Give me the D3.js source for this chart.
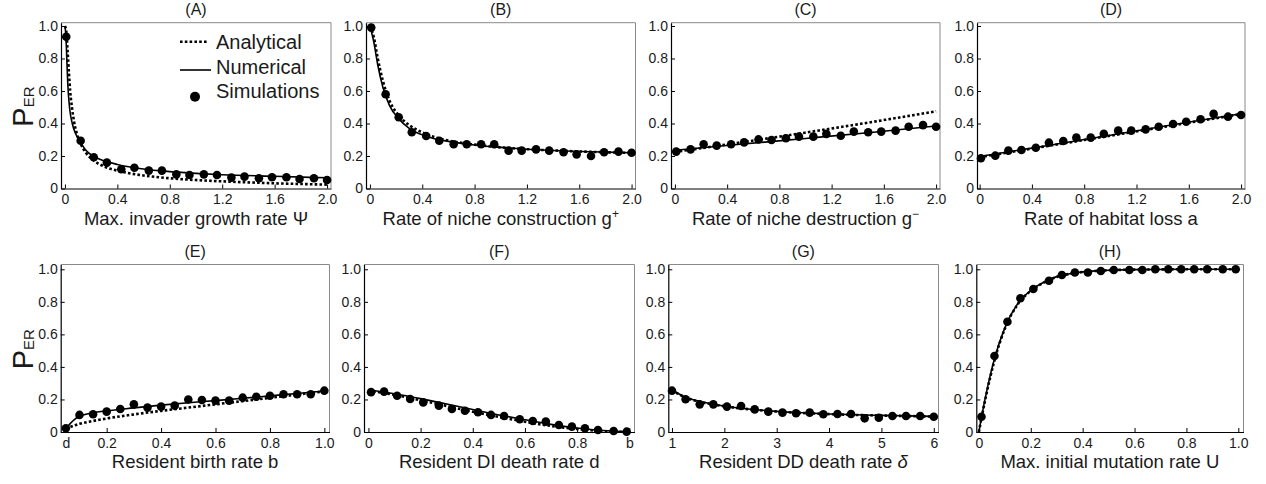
<!DOCTYPE html>
<html>
<head>
<meta charset="utf-8">
<script src="https://cdn.jsdelivr.net/npm/d3@7"></script>
<style>
  body { margin: 0; background: #fff; }
  text { font-family: "Liberation Sans", Arial, sans-serif; fill: #1a1a1a; }
</style>
</head>
<body>
<svg id="chart" width="1266" height="484"></svg>
<script>
// x values of the simulation points
var xTwo = [0.01, 0.12, 0.22, 0.32, 0.43, 0.53, 0.64, 0.74, 0.85, 0.95, 1.06, 1.16, 1.27, 1.37, 1.48, 1.58, 1.69, 1.79, 1.90, 2.0];
var xBirth = [0.05, 0.1, 0.15, 0.2, 0.25, 0.3, 0.35, 0.4, 0.45, 0.5, 0.55, 0.6, 0.65, 0.7, 0.75, 0.8, 0.85, 0.9, 0.95, 1.0];
var xUnit = [0.01, 0.06, 0.11, 0.16, 0.21, 0.27, 0.32, 0.37, 0.42, 0.47, 0.52, 0.58, 0.63, 0.68, 0.73, 0.78, 0.83, 0.88, 0.94, 0.99];
var xDelta = [1, 1.26, 1.53, 1.79, 2.05, 2.32, 2.58, 2.84, 3.11, 3.37, 3.63, 3.89, 4.16, 4.42, 4.68, 4.95, 5.21, 5.47, 5.74, 6];

// simulation results (P_ER)
var simA = [0.934, 0.294, 0.192, 0.159, 0.118, 0.128, 0.11, 0.11, 0.087, 0.083, 0.087, 0.083, 0.067, 0.073, 0.063, 0.069, 0.069, 0.058, 0.063, 0.052];
var simB = [0.99, 0.58, 0.438, 0.346, 0.323, 0.294, 0.272, 0.272, 0.272, 0.272, 0.233, 0.233, 0.241, 0.233, 0.223, 0.21, 0.2, 0.223, 0.227, 0.22];
var simC = [0.227, 0.241, 0.272, 0.264, 0.272, 0.284, 0.302, 0.298, 0.309, 0.319, 0.319, 0.336, 0.325, 0.35, 0.346, 0.35, 0.356, 0.38, 0.39, 0.38];
var simD = [0.186, 0.202, 0.233, 0.237, 0.251, 0.282, 0.292, 0.313, 0.313, 0.336, 0.356, 0.356, 0.364, 0.38, 0.397, 0.411, 0.426, 0.459, 0.442, 0.452];
var simE = [0.023, 0.105, 0.109, 0.125, 0.141, 0.17, 0.15, 0.156, 0.162, 0.2, 0.197, 0.193, 0.193, 0.211, 0.217, 0.223, 0.232, 0.232, 0.232, 0.254];
var simF = [0.245, 0.248, 0.223, 0.203, 0.182, 0.162, 0.141, 0.131, 0.121, 0.105, 0.098, 0.078, 0.068, 0.064, 0.043, 0.033, 0.023, 0.012, 0.006, 0.002];
var simG = [0.254, 0.201, 0.17, 0.17, 0.156, 0.16, 0.139, 0.125, 0.119, 0.115, 0.119, 0.109, 0.111, 0.111, 0.084, 0.088, 0.098, 0.098, 0.098, 0.094];
var simH = [0.094, 0.467, 0.678, 0.822, 0.879, 0.93, 0.965, 0.98, 0.98, 0.99, 0.996, 0.996, 0.996, 1.0, 1.0, 1.0, 1.0, 1.0, 1.0, 1.0];

// numerical curves [x, P_ER]
var numA = [[0, 1.0], [0.008, 0.93], [0.015, 0.78], [0.022, 0.64], [0.035, 0.5], [0.056, 0.4], [0.08, 0.34], [0.115, 0.29], [0.16, 0.235], [0.22, 0.197], [0.3, 0.17], [0.4, 0.148], [0.6, 0.12], [0.8, 0.104], [1.0, 0.093], [1.2, 0.085], [1.6, 0.075], [2.0, 0.066]];
var numB = [[0, 1.0], [0.03, 0.9], [0.06, 0.76], [0.1, 0.62], [0.15, 0.51], [0.22, 0.43], [0.3, 0.37], [0.4, 0.33], [0.5, 0.305], [0.6, 0.29], [0.8, 0.268], [1.0, 0.253], [1.2, 0.242], [1.4, 0.234], [1.6, 0.228], [1.8, 0.224], [2.0, 0.22]];
var numC = [[0, 0.235], [0.5, 0.272], [1.0, 0.308], [1.5, 0.345], [2.0, 0.385]];
var numD = [[0, 0.197], [0.5, 0.262], [1.0, 0.328], [1.5, 0.395], [2.0, 0.46]];
var numE = [[0.05, 0.02], [0.065, 0.05], [0.08, 0.075], [0.1, 0.095], [0.15, 0.118], [0.2, 0.13], [0.3, 0.148], [0.4, 0.165], [0.5, 0.18], [0.6, 0.193], [0.7, 0.207], [0.8, 0.222], [0.9, 0.237], [1.0, 0.252]];
var numF = [[0, 0.26], [0.1, 0.235], [0.2, 0.205], [0.3, 0.172], [0.4, 0.138], [0.5, 0.105], [0.6, 0.075], [0.7, 0.047], [0.8, 0.025], [0.9, 0.009], [1.0, 0.0]];
var numG = [[1, 0.26], [1.25, 0.215], [1.5, 0.19], [2, 0.16], [2.5, 0.14], [3, 0.127], [3.5, 0.118], [4, 0.111], [4.5, 0.106], [5, 0.102], [5.5, 0.099], [6, 0.096]];
var numH = [[0, 0], [0.01, 0.09], [0.03, 0.25], [0.06, 0.45], [0.1, 0.64], [0.15, 0.79], [0.2, 0.87], [0.25, 0.92], [0.3, 0.955], [0.35, 0.973], [0.4, 0.984], [0.5, 0.994], [0.6, 0.998], [0.8, 1.0], [1.0, 1.0]];

// analytical curves [x, P_ER]
var anaA = [[0, 1.0], [0.01, 0.97], [0.02, 0.85], [0.03, 0.72], [0.04, 0.6], [0.055, 0.49], [0.07, 0.41], [0.09, 0.34], [0.115, 0.285], [0.16, 0.22], [0.22, 0.172], [0.3, 0.135], [0.4, 0.11], [0.6, 0.08], [0.8, 0.063], [1.0, 0.052], [1.2, 0.044], [1.6, 0.032], [2.0, 0.024]];
var anaB = [[0, 1.0], [0.03, 0.93], [0.06, 0.8], [0.1, 0.66], [0.15, 0.54], [0.22, 0.45], [0.3, 0.39], [0.4, 0.345], [0.5, 0.315], [0.6, 0.295], [0.8, 0.27], [1.0, 0.253], [1.2, 0.242], [1.6, 0.228], [2.0, 0.219]];
var anaC = [[0, 0.225], [0.5, 0.283], [1.0, 0.344], [1.5, 0.408], [2.0, 0.475]];
var anaD = [[0, 0.193], [1.0, 0.325], [2.0, 0.458]];
var anaE = [[0.05, 0.02], [0.08, 0.04], [0.1, 0.05], [0.15, 0.068], [0.2, 0.083], [0.3, 0.108], [0.4, 0.13], [0.5, 0.15], [0.6, 0.17], [0.7, 0.19], [0.8, 0.21], [0.9, 0.23], [1.0, 0.25]];
var anaF = [[0, 0.255], [0.1, 0.228], [0.2, 0.195], [0.3, 0.16], [0.4, 0.125], [0.5, 0.093], [0.6, 0.063], [0.7, 0.037], [0.8, 0.018], [0.9, 0.005], [1.0, 0.0]];
var anaG = [[1, 0.258], [1.25, 0.213], [1.5, 0.188], [2, 0.158], [2.5, 0.139], [3, 0.126], [3.5, 0.117], [4, 0.11], [4.5, 0.105], [5, 0.101], [5.5, 0.098], [6, 0.095]];
var anaH = [[0, 0], [0.01, 0.085], [0.03, 0.24], [0.06, 0.44], [0.1, 0.635], [0.15, 0.785], [0.2, 0.868], [0.25, 0.918], [0.3, 0.953], [0.35, 0.972], [0.4, 0.983], [0.5, 0.994], [0.6, 0.998], [0.8, 1.0], [1.0, 1.0]];

// ticks
var ticksTwo = [0, 0.4, 0.8, 1.2, 1.6, 2.0];
var labelsTwo = ["0", "0.4", "0.8", "1.2", "1.6", "2.0"];
var ticksBirth = [0.05, 0.2, 0.4, 0.6, 0.8, 1.0];
var labelsBirth = ["d", "0.2", "0.4", "0.6", "0.8", "1.0"];
var ticksDeath = [0, 0.2, 0.4, 0.6, 0.8, 1.0];
var labelsDeath = ["0", "0.2", "0.4", "0.6", "0.8", "b"];
var ticksDelta = [1, 2, 3, 4, 5, 6];
var labelsDelta = ["1", "2", "3", "4", "5", "6"];
var ticksU = [0, 0.2, 0.4, 0.6, 0.8, 1.0];
var labelsU = ["0", "0.2", "0.4", "0.6", "0.8", "1.0"];
var ticksY = [0, 0.2, 0.4, 0.6, 0.8, 1.0];
var labelsY = ["0", "0.2", "0.4", "0.6", "0.8", "1.0"];

var titles = ["(A)", "(B)", "(C)", "(D)", "(E)", "(F)", "(G)", "(H)"];
var xLabels = ["Max. invader growth rate Ψ", "Rate of niche construction g", "Rate of niche destruction g", "Rate of habitat loss a",
               "Resident birth rate b", "Resident DI death rate d", "Resident DD death rate ", "Max. initial mutation rate U"];
var xLabelSup = ["", "+", "\u2212", "", "", "", "", ""];
var xLabelItalic = ["", "", "", "", "", "", "δ", ""];

// layout
var rowTop = [22.7, 264.5];
var rowBottom = [188.5, 432];
var rowYMax = [1.0203, 1.0295];
var colLeft = [[61, 366, 671, 977], [60.7, 364, 668.3, 976.3]];
var colRight = [[331, 635.5, 940, 1245], [329.5, 634.5, 938.5, 1243.5]];

var svg = d3.select("#chart");

var panels = [
  {xs: xTwo, sim: simA, num: numA, ana: anaA, dom: [-0.03, 2.03], ticks: ticksTwo, labels: labelsTwo},
  {xs: xTwo, sim: simB, num: numB, ana: anaB, dom: [-0.03, 2.03], ticks: ticksTwo, labels: labelsTwo},
  {xs: xTwo, sim: simC, num: numC, ana: anaC, dom: [-0.03, 2.03], ticks: ticksTwo, labels: labelsTwo},
  {xs: xTwo, sim: simD, num: numD, ana: anaD, dom: [-0.02, 2.03], ticks: ticksTwo, labels: labelsTwo},
  {xs: xBirth, sim: simE, num: numE, ana: anaE, dom: [0.031, 1.019], ticks: ticksBirth, labels: labelsBirth},
  {xs: xUnit, sim: simF, num: numF, ana: anaF, dom: [-0.017, 1.02], ticks: ticksDeath, labels: labelsDeath},
  {xs: xDelta, sim: simG, num: numG, ana: anaG, dom: [0.93, 6.09], ticks: ticksDelta, labels: labelsDelta},
  {xs: xUnit, sim: simH, num: numH, ana: anaH, dom: [-0.01, 1.02], ticks: ticksU, labels: labelsU}
];

panels.forEach(function(p, i) {
  var row = Math.floor(i / 4), col = i % 4;
  p.row = row;
  p.left = colLeft[row][col];
  p.right = colRight[row][col];
  p.top = rowTop[row];
  p.bottom = rowBottom[row];
  p.yMax = rowYMax[row];
  drawPanel(p, i);
});

function drawPanel(p, i) {
  var xScale = d3.scaleLinear().domain(p.dom).range([p.left, p.right]);
  var yScale = d3.scaleLinear().domain([0, p.yMax]).range([p.bottom, p.top]);
  var g = svg.append("g");

  g.append("clipPath").attr("id", "clip" + i)
    .append("rect")
    .attr("x", p.left).attr("y", p.top - 1)
    .attr("width", p.right - p.left).attr("height", p.bottom - p.top + 1);

  // gray frame (top and right)
  g.append("path")
    .attr("d", "M" + p.left + "," + p.top + "H" + p.right + "V" + p.bottom)
    .attr("fill", "none")
    .attr("stroke", "#8a8a8a")
    .attr("stroke-width", 1);

  var xAxis = d3.axisBottom(xScale)
    .tickValues(p.ticks)
    .tickFormat(function(d, k) { return p.labels[k]; })
    .tickSizeInner(-4)
    .tickSizeOuter(0)
    .tickPadding(6);
  var gx = g.append("g")
    .attr("transform", "translate(0," + p.bottom + ")")
    .call(xAxis);

  var yAxis = d3.axisLeft(yScale)
    .tickValues(ticksY)
    .tickFormat(function(d, k) { return labelsY[k]; })
    .tickSizeInner(-4)
    .tickSizeOuter(0)
    .tickPadding(3);
  var gy = g.append("g")
    .attr("transform", "translate(" + p.left + ",0)")
    .call(yAxis);

  [gx, gy].forEach(function(a) {
    a.selectAll("text").attr("font-size", "14px").attr("font-family", null).attr("fill", "#1a1a1a");
    a.select(".domain").attr("stroke", "#000").attr("stroke-width", 1.2);
    a.selectAll(".tick line").attr("stroke", "#000").attr("stroke-width", 1);
  });

  var line = d3.line()
    .x(function(d) { return xScale(d[0]); })
    .y(function(d) { return yScale(d[1]); })
    .curve(d3.curveMonotoneX);

  var plot = g.append("g").attr("clip-path", "url(#clip" + i + ")");

  plot.append("path")
    .attr("d", line(p.num))
    .attr("fill", "none")
    .attr("stroke", "#000")
    .attr("stroke-width", 1.6);

  plot.append("path")
    .attr("d", line(p.ana))
    .attr("fill", "none")
    .attr("stroke", "#000")
    .attr("stroke-width", 2.6)
    .attr("stroke-dasharray", "2.6,2.2");

  g.selectAll("circle.sim")
    .data(p.sim)
    .enter()
    .append("circle")
    .attr("class", "sim")
    .attr("cx", function(d, k) { return xScale(p.xs[k]); })
    .attr("cy", function(d) { return yScale(d); })
    .attr("r", 4.3)
    .attr("fill", "#000");

  var cx = (p.left + p.right) / 2;
  g.append("text")
    .attr("x", cx)
    .attr("y", p.top - 8)
    .attr("text-anchor", "middle")
    .attr("font-size", "16px")
    .text(titles[i]);

  var lab = g.append("text")
    .attr("x", cx)
    .attr("y", p.bottom + 36)
    .attr("text-anchor", "middle")
    .attr("font-size", "18.5px");
  lab.append("tspan").text(xLabels[i]);
  if (xLabelSup[i]) {
    lab.append("tspan").attr("font-size", "12px").attr("dy", -7).text(xLabelSup[i]);
  }
  if (xLabelItalic[i]) {
    lab.append("tspan").attr("font-style", "italic").text(xLabelItalic[i]);
  }

  if (i % 4 == 0) {
    var yl = g.append("text")
      .attr("transform", "translate(33," + ((p.top + p.bottom) / 2 + 1) + ") rotate(-90)")
      .attr("text-anchor", "middle");
    yl.append("tspan").attr("font-size", "29px").text("P");
    yl.append("tspan").attr("font-size", "15px").attr("dy", 1).text("ER");
  }

  if (i == 0) drawLegend(p);
}

function drawLegend(p) {
  var g = svg.append("g");
  var x0 = p.left + 119, tx = p.left + 155;
  g.append("line")
    .attr("x1", x0).attr("x2", x0 + 28).attr("y1", 41.7).attr("y2", 41.7)
    .attr("stroke", "#000").attr("stroke-width", 2.6).attr("stroke-dasharray", "2.6,2.2");
  g.append("text").attr("x", tx).attr("y", 48.5).attr("font-size", "20px").text("Analytical");

  g.append("line")
    .attr("x1", x0).attr("x2", x0 + 31).attr("y1", 70).attr("y2", 70)
    .attr("stroke", "#000").attr("stroke-width", 1.6);
  g.append("text").attr("x", tx).attr("y", 74).attr("font-size", "20px").text("Numerical");

  g.append("circle").attr("cx", x0 + 15).attr("cy", 96.7).attr("r", 5).attr("fill", "#000");
  g.append("text").attr("x", tx).attr("y", 98).attr("font-size", "20px").text("Simulations");
}
</script>
</body>
</html>
